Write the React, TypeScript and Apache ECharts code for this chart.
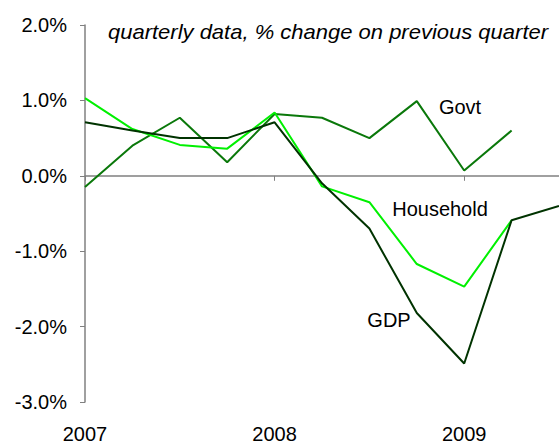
import React, { useEffect, useRef } from "react";
import * as echarts from "echarts";

const quarters = [
  "2007 Q1", "2007 Q2", "2007 Q3", "2007 Q4",
  "2008 Q1", "2008 Q2", "2008 Q3", "2008 Q4",
  "2009 Q1", "2009 Q2", "2009 Q3",
];
const gdp = [0.71, 0.6, 0.5, 0.5, 0.71, -0.1, -0.7, -1.82, -2.49, -0.59, -0.4];
const household = [1.03, 0.62, 0.41, 0.36, 0.84, -0.14, -0.35, -1.17, -1.47, -0.59, null];
const govt = [-0.15, 0.4, 0.77, 0.18, 0.82, 0.77, 0.5, 0.99, 0.07, 0.6, null];
const yTicks = { min: -3, max: 2, interval: 1 };
const titleText = "quarterly data, % change on previous quarter";
const seriesNames = { gdp: "GDP", household: "Household", govt: "Govt" };

const FONT = "'Liberation Sans', Arial, sans-serif";

export default function App() {
  const ref = useRef<HTMLDivElement>(null);
  useEffect(() => {
    if (!ref.current) return;
    const chart = echarts.init(ref.current, null, { renderer: "svg" });
    chart.setOption({
      animation: false,
      backgroundColor: "#ffffff",
      grid: { left: 85, right: -1, top: 25, bottom: 40, containLabel: false },
      xAxis: [
        {
          type: "category",
          data: quarters,
          boundaryGap: false,
          axisLine: { onZero: true, lineStyle: { color: "#808080", width: 1.5 } },
          axisTick: { show: true, interval: 3, length: 5, lineStyle: { color: "#808080" } },
          axisLabel: { show: false },
          splitLine: { show: false },
        },
        {
          type: "category",
          data: quarters,
          boundaryGap: false,
          position: "bottom",
          axisLine: { show: false, onZero: false },
          axisTick: { show: false },
          axisLabel: {
            show: true,
            interval: 3,
            margin: 22,
            fontSize: 20,
            fontFamily: FONT,
            color: "#000",
            formatter: (v: string) => v.slice(0, 4),
          },
          splitLine: { show: false },
        },
      ],
      yAxis: {
        type: "value",
        min: yTicks.min,
        max: yTicks.max,
        interval: yTicks.interval,
        axisLine: { show: true, lineStyle: { color: "#808080", width: 1.5 } },
        axisTick: { show: true, length: 5, lineStyle: { color: "#808080" } },
        axisLabel: {
          margin: 18,
          fontSize: 20,
          fontFamily: FONT,
          color: "#000",
          formatter: (v: number) => v.toFixed(1) + "%",
        },
        splitLine: { show: false },
      },
      series: [
        {
          name: seriesNames.govt,
          type: "line",
          data: govt,
          xAxisIndex: 0,
          showSymbol: false,
          symbol: "none",
          lineStyle: { color: "#0a780a", width: 2 },
        },
        {
          name: seriesNames.household,
          type: "line",
          data: household,
          xAxisIndex: 0,
          showSymbol: false,
          symbol: "none",
          lineStyle: { color: "#00f000", width: 2 },
        },
        {
          name: seriesNames.gdp,
          type: "line",
          data: gdp,
          xAxisIndex: 0,
          showSymbol: false,
          symbol: "none",
          lineStyle: { color: "#003300", width: 2 },
        },
      ],
      graphic: [
        {
          type: "text",
          x: 328,
          y: 32,
          scaleX: 1.1,
          style: {
            text: titleText,
            fontSize: 20,
            fontStyle: "italic",
            fontFamily: FONT,
            fill: "#000",
            align: "center",
            verticalAlign: "middle",
          },
        },
        {
          type: "text",
          x: 460,
          y: 107,
          style: {
            text: seriesNames.govt,
            fontSize: 20,
            fontFamily: FONT,
            fill: "#000",
            align: "center",
            verticalAlign: "middle",
          },
        },
        {
          type: "text",
          x: 440,
          y: 209,
          style: {
            text: seriesNames.household,
            fontSize: 20,
            fontFamily: FONT,
            fill: "#000",
            align: "center",
            verticalAlign: "middle",
          },
        },
        {
          type: "text",
          x: 389,
          y: 320,
          style: {
            text: seriesNames.gdp,
            fontSize: 20,
            fontFamily: FONT,
            fill: "#000",
            align: "center",
            verticalAlign: "middle",
          },
        },
      ],
    });
    return () => chart.dispose();
  }, []);
  return (
    <div
      ref={ref}
      style={{ position: "absolute", left: 0, top: 0, width: 559, height: 444 }}
    />
  );
}
